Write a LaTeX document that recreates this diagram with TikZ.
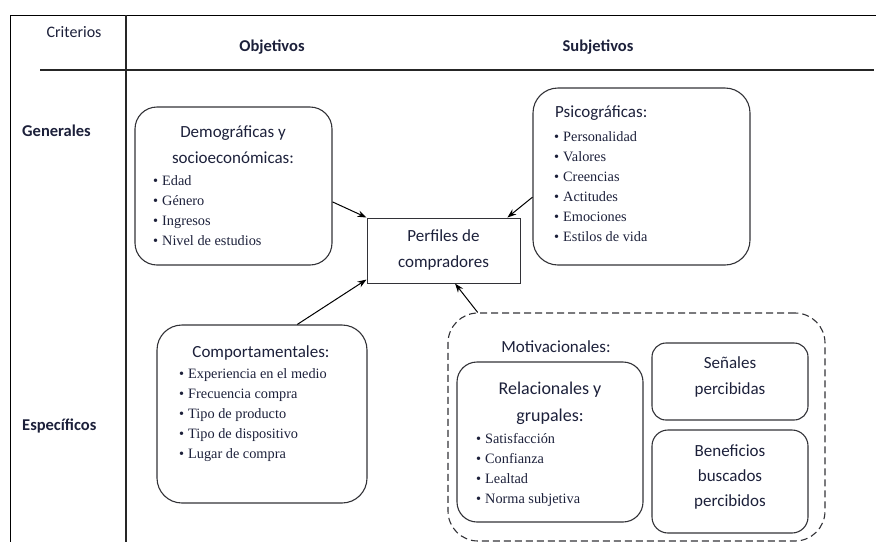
\documentclass[tikz,border=0pt]{standalone}
\usepackage{fontspec}
\setmainfont{Liberation Serif}
\newfontfamily\calfont{Carlito}
\usetikzlibrary{arrows.meta,calc}
\definecolor{textc}{RGB}{28,32,58}
\definecolor{linec}{RGB}{50,50,55}
\newcommand{\myitem}[1]{\textbullet\hspace{4pt}#1}
\tikzset{
  hdr/.style={font=\calfont\fontsize{16}{18}\selectfont, text=textc, inner sep=0pt},
  hdrb/.style={font=\calfont\bfseries\fontsize{16.5}{18}\selectfont, text=textc, inner sep=0pt},
  bhead/.style={font=\calfont\fontsize{17}{26}\selectfont, text=textc, inner sep=0pt, align=center},
  blist/.style={font=\fontsize{14.3}{20}\selectfont, text=textc, inner sep=0pt, align=left, anchor=west},
  rbox/.style={draw=linec, line width=1.1pt, rounded corners=#1, minimum width=0pt, inner sep=0pt},
  arr/.style={draw=black, line width=1pt, -{Stealth[length=9pt,width=6.5pt]}},
}
\begin{document}
\begin{tikzpicture}[x=1pt,y=-1pt]
\useasboundingbox (0,0) rectangle (876,542);
% frame
\draw[line width=0.8pt, black] (10,15) -- (876,15);
\draw[line width=0.8pt, black] (10,15) -- (10,542);
\draw[line width=2pt, black!85] (40,70) -- (874,70);
\draw[line width=2pt, black!85] (126,15) -- (126,542);
% headers
\node[hdr]  (crit) at (74,32) {Criterios};
\node[hdrb] (obj)  at (272,47) {Objetivos};
\node[hdrb] (subj) at (598,47) {Subjetivos};
\node[hdrb, anchor=west] (gen) at (22,131) {Generales};
\node[hdrb, anchor=west] (esp) at (22,426) {Específicos};
% boxes
\node[rbox=22pt, minimum width=197pt, minimum height=158pt] (demo) at (233.5,186) {};
\node[draw=linec, line width=1pt, minimum width=153pt, minimum height=65pt, inner sep=0pt] (perf) at (443.5,250.5) {};
\node[rbox=25pt, minimum width=217pt, minimum height=177pt] (psico) at (641.5,176.5) {};
\node[rbox=25pt, minimum width=210pt, minimum height=178pt] (comp) at (262,414) {};
\node[rbox=30pt, dashed, dash pattern=on 7pt off 4pt, minimum width=377pt, minimum height=228pt] (motiv) at (636.5,427) {};
\node[rbox=20pt, minimum width=186pt, minimum height=160pt] (rel) at (550,442) {};
\node[rbox=14pt, minimum width=156pt, minimum height=77pt] (sen) at (730,381.5) {};
\node[rbox=16pt, minimum width=156pt, minimum height=103pt] (ben) at (730,481.5) {};
% texts
\node[bhead] (demoh) at (233,145) {Demográficas y\\socioeconómicas:};
\node[blist] (demol) at (153,211) {\myitem{Edad}\\\myitem{Género}\\\myitem{Ingresos}\\\myitem{Nivel de estudios}};
\node[bhead] (perft) at (443.5,249.5) {Perfiles de\\compradores};
\node[bhead, anchor=west] (psicoh) at (555,113) {Psicográficas:};
\node[blist] (psicol) at (554,187) {\myitem{Personalidad}\\\myitem{Valores}\\\myitem{Creencias}\\\myitem{Actitudes}\\\myitem{Emociones}\\\myitem{Estilos de vida}};
\node[bhead] (comph) at (261,353) {Comportamentales:};
\node[blist] (compl) at (179,415.5) {\myitem{Experiencia en el medio}\\\myitem{Frecuencia compra}\\\myitem{Tipo de producto}\\\myitem{Tipo de dispositivo}\\\myitem{Lugar de compra}};
\node[bhead] (motivh) at (556,347) {Motivacionales:};
\node[bhead, font=\calfont\fontsize{18}{27}\selectfont] (relh) at (550,403.5) {Relacionales y\\grupales:};
\node[blist] (rell) at (476,470) {\myitem{Satisfacción}\\\myitem{Confianza}\\\myitem{Lealtad}\\\myitem{Norma subjetiva}};
\node[bhead] (sent) at (730,377) {Señales\\percibidas};
\node[bhead, font=\calfont\fontsize{17}{25}\selectfont] (bent) at (730,477) {Beneficios\\buscados\\percibidos};
% arrows
\draw[arr] ($(demo.north east)!0.6!(demo.south east)$) -- (perf.north west);
\draw[arr] ($(psico.north west)!0.616!(psico.south west)$) -- ($(perf.north west)!0.915!(perf.north east)$);
\draw[arr] ($(comp.north west)!0.667!(comp.north east)$) -- ($(perf.north west)!0.94!(perf.south west)$);
\draw[arr] ($(motiv.north west)!0.08!(motiv.north east)$) -- ($(perf.south west)!0.575!(perf.south east)$);
\end{tikzpicture}
\end{document}
